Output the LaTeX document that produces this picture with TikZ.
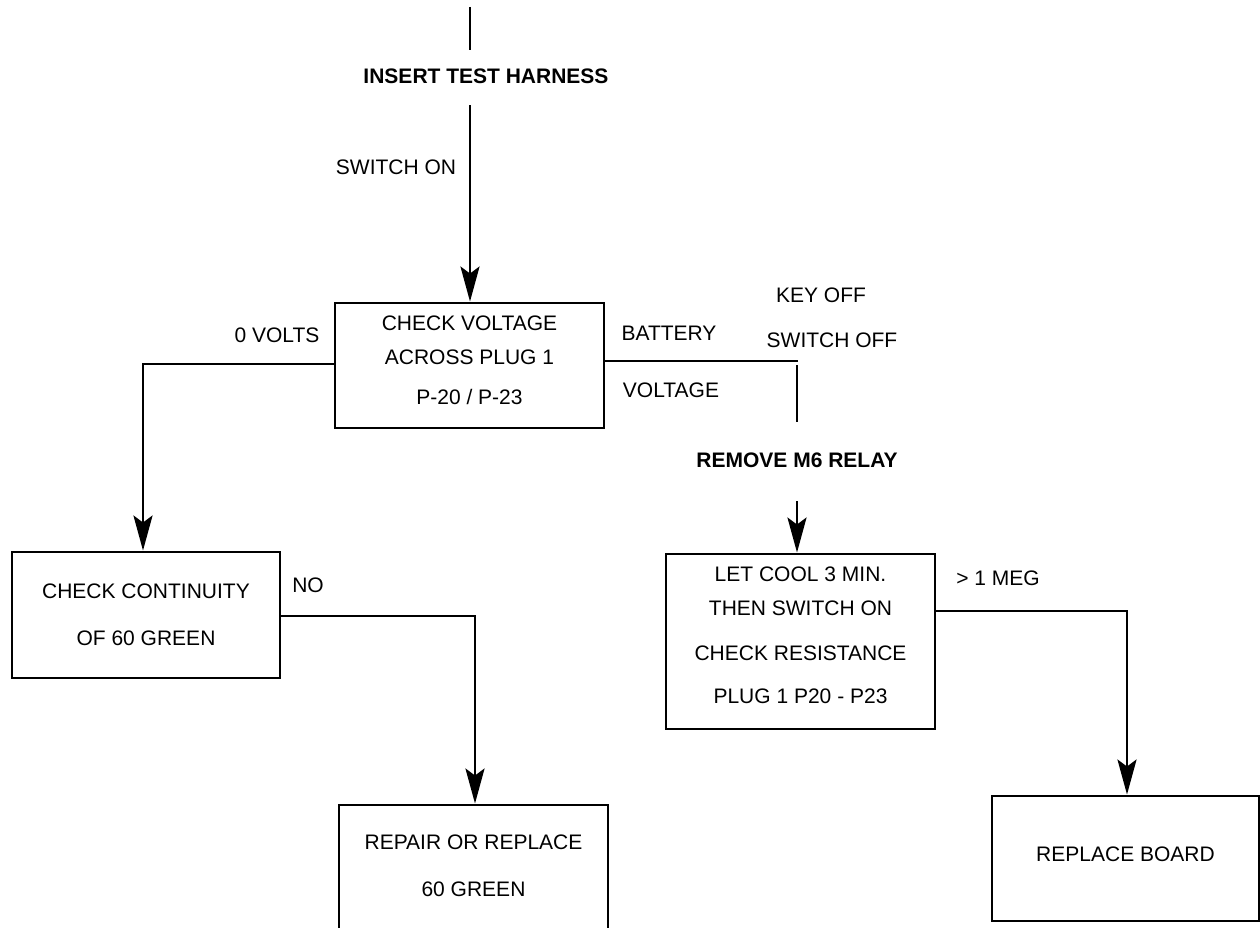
\documentclass[tikz,border=0pt]{standalone}
\usepackage{fontspec}
\setmainfont{Liberation Sans}
\usetikzlibrary{arrows.meta}
\begin{document}
\begin{tikzpicture}[x=1pt,y=-1pt,
  line width=2.9pt,
  box/.style={draw, rectangle, inner sep=0pt, align=center, font=\fontsize{21}{34}\selectfont},
  lbl/.style={font=\fontsize{21}{25}\selectfont, inner sep=0pt, anchor=base},
  blbl/.style={lbl, font=\bfseries\fontsize{21}{25}\selectfont, text height=15pt, text depth=3pt},
  arr/.style={-{Stealth[length=35pt,width=19pt,inset=7pt]}}
  ]
\useasboundingbox (0,0) rectangle (1260,928);

% boxes
\node[box, minimum width=269pt, minimum height=125pt] (box1) at (469.5,365.5)
  {CHECK VOLTAGE\\ACROSS PLUG 1\\[6pt]P-20 / P-23\rule[-11pt]{0pt}{11pt}};
\node[box, minimum width=268pt, minimum height=126pt] (box2) at (146,615)
  {CHECK CONTINUITY\\[13pt]OF 60 GREEN};
\node[box, minimum width=269pt, minimum height=175pt] (box3) at (800.5,641.5)
  {LET COOL 3 MIN.\\THEN SWITCH ON\\[11pt]CHECK RESISTANCE\\[9pt]PLUG 1 P20 - P23\rule[-13pt]{0pt}{13pt}};
\node[box, minimum width=267pt, minimum height=125pt] (box4) at (1125.5,858.5)
  {REPLACE BOARD\rule[-9pt]{0pt}{9pt}};
\node[box, minimum width=269pt, minimum height=126pt] (box5) at (473.5,868)
  {REPAIR OR REPLACE\\[13pt]60 GREEN\rule[-5pt]{0pt}{5pt}};

% step labels
\node[blbl, inner ysep=17.5pt] (insert) at (486,83.5) {INSERT TEST HARNESS};
\node[blbl, inner ysep=29.5pt] (remove) at (797,467.5) {REMOVE M6 RELAY};

% connector labels
\node[lbl] (switchon) at (396,174.5) {SWITCH ON};
\node[lbl] (zerov) at (277,342.5) {0 VOLTS};
\node[lbl] (battery) at (669,340.5) {BATTERY};
\node[lbl] (voltage) at (671,397.5) {VOLTAGE};
\node[lbl] (keyoff) at (821,302.5) {KEY OFF};
\node[lbl] (switchoff) at (832,347.5) {SWITCH OFF};
\node[lbl] (no) at (308,592.5) {NO};
\node[lbl] (meg) at (998,585.5) {> 1 MEG};

% connectors
\coordinate (top) at (470,7);
\draw (top) -- (top |- insert.north);
\draw[arr] (insert.south -| top) -- (top |- box1.north);

\coordinate (vl) at (143,364);
\draw[arr] (box1.west |- vl) -- (vl) -- (vl |- box2.north);

\coordinate (kr) at (798,361);
\draw (box1.east |- kr) -- (kr);
\coordinate (kv) at (797,365);
\draw (kv) -- (kv |- remove.north);
\draw[arr] (remove.south -| kv) -- (kv |- box3.north);

\coordinate (nr) at (475,616);
\draw[arr] (box2.east |- nr) -- (nr) -- (nr |- box5.north);

\coordinate (mr) at (1127,611);
\draw[arr] (box3.east |- mr) -- (mr) -- (mr |- box4.north);
\end{tikzpicture}
\end{document}
